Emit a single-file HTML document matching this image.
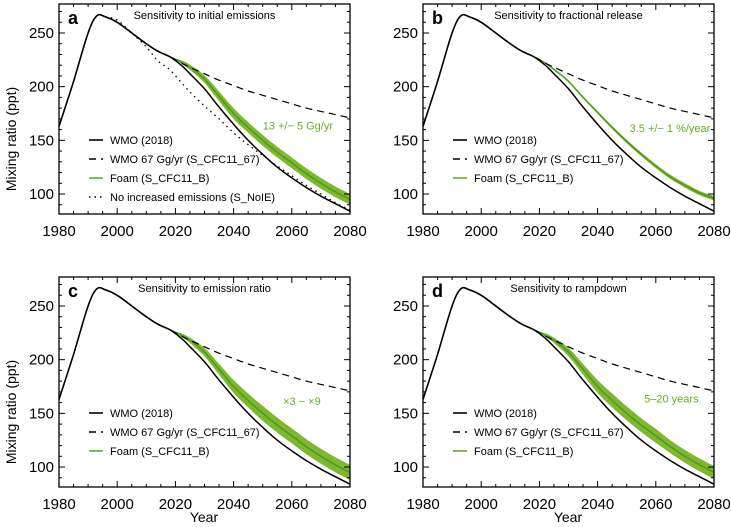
<!DOCTYPE html>
<html><head><meta charset="utf-8"><style>
body{margin:0;background:#fff;}
svg{display:block;font-family:"Liberation Sans",Arial,sans-serif;}
</style></head><body>
<svg id="chart" width="731" height="527" viewBox="0 0 731 527"></svg>
<script>
const years = [1980,1985,1990,1993,1996,2000,2005,2010,2014,2018,2022,2025,2030,2035,2040,2045,2050,2055,2060,2065,2070,2075,2080];
const wmo   = [163,205,250,266,265,260,250,240,233,228,220,212,198,181,165,150,137,125,115,106,98,91,84];
const wmo67 = [163,205,250,266,265,260,250,240,233,228,222,218,212,206,201,196,192,188,184,180,177,174,171];
const noIE  = [163,205,250,266,265,262,250,237,224,216,204,195,182,170,157,146,136,126,117,108,100,92,85];
const foamA = [163,205,250,266,265,260,250,240,233,228,223,218,207,191,175,162,150,139,129,119,110,102,95];
const foamB = [163,205,250,266,265,260,250,240,233,228,222,216,205,190,176,162,149,137,126,116,108,101,96];
const bandA = [0,0,0,0,0,0,0,0,0,0,1.5,2.5,3.5,4.5,5,5,5,5,5,5,5,5,5];
const bandB = [0,0,0,0,0,0,0,0,0,0,0.3,0.5,0.7,1,1.2,1.4,1.6,1.7,1.8,1.9,2,2,2];
const bandC = [0,0,0,0,0,0,0,0,0,0,1.5,2.5,4,5,6,6.5,7,7,7,7,7,7,7];
const bandD = [0,0,0,0,0,0,0,0,0,0,1.5,2.5,4,5,6,6.5,6.5,6.5,6.5,6,6,6,6];
const xTicks = [1980,2000,2020,2040,2060,2080];
const yTicks = [100,150,200,250];
const panels = [
 {id:'a',x:59,y:4,title:'Sensitivity to initial emissions',band:bandA,foam:foamA,ann:'13 +/\u2212 5 Gg/yr',annX:2050,annY:160,dotted:true},
 {id:'b',x:423,y:4,title:'Sensitivity to fractional release',band:bandB,foam:foamB,ann:'3.5 +/\u2212 1 %/year',annX:2051,annY:158,dotted:false},
 {id:'c',x:59,y:277,title:'Sensitivity to emission ratio',band:bandC,foam:foamA,ann:'\u00d73 \u2212 \u00d79',annX:2057,annY:158,dotted:false},
 {id:'d',x:423,y:277,title:'Sensitivity to rampdown',band:bandD,foam:foamA,ann:'5\u201320 years',annX:2056,annY:160,dotted:false}
];
const W=291,H=210,Y0=81.4,Y1=277;
const svg=document.getElementById('chart');
const NS='http://www.w3.org/2000/svg';
function mk(tag,attrs,parent){const e=document.createElementNS(NS,tag);for(const k in attrs)e.setAttribute(k,attrs[k]);parent.appendChild(e);return e;}
function smooth(P,move){let d=move?'M'+P[0][0].toFixed(1)+','+P[0][1].toFixed(1):'L'+P[0][0].toFixed(1)+','+P[0][1].toFixed(1);
 for(let i=0;i<P.length-1;i++){const p0=P[Math.max(i-1,0)],p1=P[i],p2=P[i+1],p3=P[Math.min(i+2,P.length-1)];
  const c1=[p1[0]+(p2[0]-p0[0])/6,p1[1]+(p2[1]-p0[1])/6],c2=[p2[0]-(p3[0]-p1[0])/6,p2[1]-(p3[1]-p1[1])/6];
  d+=`C${c1[0].toFixed(1)},${c1[1].toFixed(1)} ${c2[0].toFixed(1)},${c2[1].toFixed(1)} ${p2[0].toFixed(1)},${p2[1].toFixed(1)}`;}
 return d;}
panels.forEach(p=>{
 const g=mk('g',{transform:`translate(${p.x},${p.y})`},svg);
 
 
 const sx=v=>(v-1980)/100*W, sy=v=>H-(v-Y0)/(Y1-Y0)*H;
 const P=arr=>years.map((yr,i)=>[sx(yr),sy(arr[i])]);
 const up=years.map((yr,i)=>[sx(yr),sy(p.foam[i]+p.band[i])]);
 const lo=years.map((yr,i)=>[sx(yr),sy(p.foam[i]-p.band[i])]).reverse();
 const band=mk('path',{d:smooth(up,true)+smooth(lo,false)+'Z',fill:'#7fb830',stroke:'none'},g);
 
 
 const f=mk('path',{d:smooth(P(p.foam),true),fill:'none',stroke:'#4f9a1a','stroke-width':1.5},g);
 
 
 const d=mk('path',{d:smooth(P(wmo67),true),fill:'none',stroke:'#000','stroke-width':1.2,'stroke-dasharray':'7,5'},g);
 
 
 if(p.dotted){const n=mk('path',{d:smooth(P(noIE),true),fill:'none',stroke:'#000','stroke-width':1.3,'stroke-dasharray':'1.5,4'},g);
  
  }
 const w=mk('path',{d:smooth(P(wmo),true),fill:'none',stroke:'#000','stroke-width':1.5},g);
 
 
 mk('rect',{x:0,y:0,width:W,height:H,fill:'none',stroke:'#000','stroke-width':1.3},g);
 for(let yr=1980;yr<=2080;yr+=5){const L=yr%20===0?6:3;const x=sx(yr);
  mk('line',{x1:x,y1:H,x2:x,y2:H-L,stroke:'#000'},g);mk('line',{x1:x,y1:0,x2:x,y2:L,stroke:'#000'},g);}
 for(let v=90;v<=270;v+=10){const L=v%50===0?6:3;const y=sy(v);
  mk('line',{x1:0,y1:y,x2:L,y2:y,stroke:'#000'},g);mk('line',{x1:W,y1:y,x2:W-L,y2:y,stroke:'#000'},g);}
 xTicks.forEach(t=>{const e=mk('text',{x:sx(t),y:H+22,'text-anchor':'middle','font-size':15},g);e.textContent=t;
  
  });
 yTicks.forEach(t=>{const e=mk('text',{x:-5,y:sy(t)+5,'text-anchor':'end','font-size':15},g);e.textContent=t;
  
  });
 const l=mk('text',{x:9,y:20,'font-size':18,'font-weight':'bold'},g);l.textContent=p.id;
 
 
 const t=mk('text',{x:W/2,y:15,'text-anchor':'middle','font-size':11},g);t.textContent=p.title;
 
 
 const a=mk('text',{x:sx(p.annX),y:sy(p.annY),'font-size':11,fill:'#6aab2a'},g);a.textContent=p.ann;
 
 
 const items=[['WMO (2018)','#000',''],['WMO 67 Gg/yr (S_CFC11_67)','#000','7,5'],['Foam (S_CFC11_B)','#6aab2a','']];
 if(p.dotted)items.push(['No increased emissions (S_NoIE)','#000','1.5,4']);
 items.forEach((it,i)=>{const y=136+i*19;
  const ln=mk('line',{x1:30,y1:y,x2:44,y2:y,stroke:it[1],'stroke-width':1.6},g);if(it[2])ln.setAttribute('stroke-dasharray',it[2]);
  
  
  const tx=mk('text',{x:51,y:y+4,'font-size':11},g);tx.textContent=it[0];
  
  });
});
[[139],[412]].forEach(c=>{const e=mk('text',{transform:`translate(16,${c[0]}) rotate(-90)`,'text-anchor':'middle','font-size':14},svg);e.textContent='Mixing ratio (ppt)';
 
 });
[[204],[568]].forEach(c=>{const e=mk('text',{x:c[0],y:522,'text-anchor':'middle','font-size':14},svg);e.textContent='Year';
 
 });
</script>
</body></html>
